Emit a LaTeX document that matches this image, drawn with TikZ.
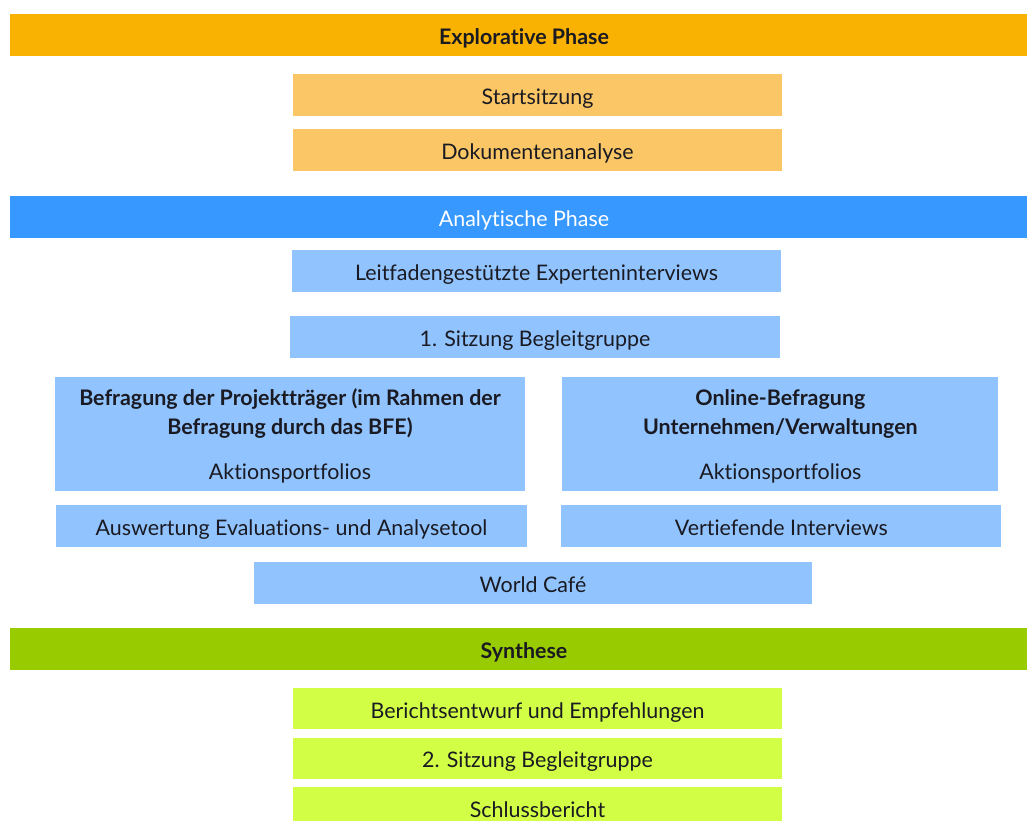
\documentclass[tikz,border=0pt]{standalone}
\usepackage{fontspec}
\setmainfont{Lato}[Ligatures=NoCommon]
\usepackage{xcolor}
\usepackage{tikz}
\usetikzlibrary{positioning}

\definecolor{explorange}{HTML}{FAB202}
\definecolor{explight}{HTML}{FBC766}
\definecolor{analblue}{HTML}{3799FF}
\definecolor{anallight}{HTML}{91C3FF}
\definecolor{synthgreen}{HTML}{99CC00}
\definecolor{synthlight}{HTML}{D2FF46}
\definecolor{textdark}{HTML}{1A1A22}

\begin{document}
\begin{tikzpicture}[x=1bp, y=-1bp]
\tikzstyle{phase} = [rectangle, inner sep=0pt, minimum width=1028bp, minimum height=42bp, text height=19bp, text depth=0pt, text=textdark, font=\fontsize{21.5}{26}\selectfont\bfseries]
\tikzstyle{task} = [rectangle, inner sep=0pt, minimum width=489bp, minimum height=42bp, text height=19bp, text depth=0pt, text=textdark, font=\fontsize{21.5}{26}\selectfont]
\tikzstyle{survey} = [rectangle, inner sep=0pt, minimum height=114bp, align=center, text=textdark, font=\fontsize{21.5}{29}\selectfont]

\useasboundingbox (0,0) rectangle (1027,821);
\clip (0,0) rectangle (1027,821);

% explorative phase
\node (expl) [phase, fill=explorange] at (524,35) {Explorative Phase};
\node (start) [task, fill=explight, below=18bp of expl, xshift=13.5bp] {Startsitzung};
\node (doku) [task, fill=explight, below=12bp of start] {Dokumentenanalyse};

% analytische phase
\node (anal) [phase, fill=analblue, text=white, font=\fontsize{21.5}{26}\selectfont] at (524,217) {Analytische Phase};
\node (leit) [task, fill=anallight, below=12bp of anal, xshift=12.5bp] {Leitfadengestützte Experteninterviews};
\node (sitz1) [task, fill=anallight, minimum width=490bp, below=23bp of leit, xshift=-1.5bp] {1. Sitzung Begleitgruppe};
\node (befr) [survey, fill=anallight, minimum width=470bp] at (290,434) {\\[-8bp]{\bfseries Befragung der Projektträger (im Rahmen der}\\{\bfseries Befragung durch das BFE)}\\[16bp]Aktionsportfolios};
\node (online) [survey, fill=anallight, minimum width=436bp, right=37bp of befr] {\\[-8bp]{\bfseries Online-Befragung}\\{\bfseries Unternehmen/Verwaltungen}\\[16bp]Aktionsportfolios};
\node (ausw) [task, fill=anallight, minimum width=471bp, below=14bp of befr, xshift=1.5bp] {Auswertung Evaluations- und Analysetool};
\node (vert) [task, fill=anallight, minimum width=440bp, below=14bp of online, xshift=1bp] {Vertiefende Interviews};
\node (world) [task, fill=anallight, minimum width=558bp] at (533,583) {World Café};

% synthese
\node (synth) [phase, fill=synthgreen] at (524,649) {Synthese};
\node (bericht) [task, fill=synthlight, minimum height=41bp, below=18bp of synth, xshift=13.5bp] {Berichtsentwurf und Empfehlungen};
\node (sitz2) [task, fill=synthlight, minimum height=41bp, below=8bp of bericht] {2. Sitzung Begleitgruppe};
\node (schluss) [task, fill=synthlight, minimum height=41bp, below=8bp of sitz2] {Schlussbericht};

\end{tikzpicture}
\end{document}
